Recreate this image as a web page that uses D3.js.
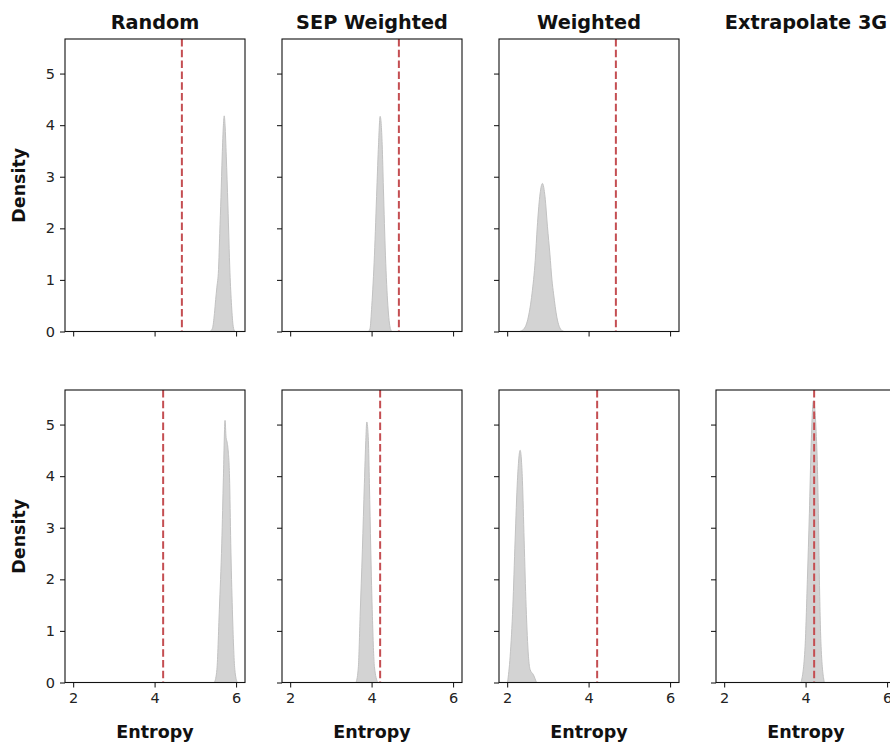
<!DOCTYPE html>
<html>
<head>
<meta charset="utf-8">
<script src="https://cdn.jsdelivr.net/npm/d3@7"></script>
<style>
  body { margin: 0; background: #fff; }
  svg { display: block; font-family: "DejaVu Sans", sans-serif; }
</style>
</head>
<body>
<div id="chart"></div>
<script>
// panel titles (columns) and the reference value drawn per row
var methods = ["Random", "SEP Weighted", "Weighted", "Extrapolate 3G"];
var rowRefs = [4.67, 4.21];
var xTicks = [2, 4, 6];
var yTicks = [0, 1, 2, 3, 4, 5];

// density curves: [entropy, density]
var topRandom = [[5.36,0],[5.42,0.06],[5.47,0.35],[5.50,0.62],[5.53,0.86],[5.57,1.2],[5.60,1.9],[5.63,2.6],[5.66,3.4],[5.69,4.0],[5.71,4.18],[5.73,4.0],[5.76,3.4],[5.80,2.45],[5.85,1.15],[5.89,0.5],[5.93,0.1],[5.97,0]];
var topSep = [[3.92,0],[3.96,0.05],[4.005,0.5],[4.07,1.48],[4.13,2.78],[4.17,3.62],[4.21,4.17],[4.26,3.62],[4.29,2.78],[4.34,1.48],[4.40,0.5],[4.46,0.06],[4.50,0]];
var topWeighted = [[2.30,0],[2.40,0.04],[2.52,0.28],[2.61,0.73],[2.69,1.38],[2.74,2.03],[2.80,2.61],[2.866,2.87],[2.93,2.61],[2.99,2.03],[3.05,1.5],[3.10,1.0],[3.14,0.73],[3.22,0.28],[3.34,0.02],[3.40,0]];
var botRandom = [[5.47,0],[5.53,0.25],[5.59,1.41],[5.65,2.7],[5.69,3.98],[5.73,5.08],[5.755,4.75],[5.78,4.66],[5.80,4.55],[5.84,3.98],[5.87,2.7],[5.91,1.41],[5.97,0.25],[6.03,0]];
var botSep = [[3.62,0],[3.676,0.31],[3.718,1.28],[3.774,2.57],[3.823,3.86],[3.858,4.69],[3.882,5.05],[3.921,4.69],[3.946,3.86],[3.98,2.57],[4.02,1.28],[4.069,0.31],[4.15,0]];
var botWeighted = [[2.01,0],[2.074,0.51],[2.14,1.47],[2.196,2.76],[2.253,3.92],[2.319,4.5],[2.375,3.92],[2.417,2.76],[2.466,1.47],[2.523,0.51],[2.564,0.25],[2.645,0.15],[2.72,0]];
var botExtrap = [[3.89,0],[3.988,0.70],[4.044,1.99],[4.093,3.28],[4.135,4.56],[4.191,5.46],[4.275,4.56],[4.314,3.28],[4.339,1.99],[4.38,0.70],[4.46,0]];

var panels = [
  {row: 0, col: 0, curve: topRandom},
  {row: 0, col: 1, curve: topSep},
  {row: 0, col: 2, curve: topWeighted},
  {row: 1, col: 0, curve: botRandom},
  {row: 1, col: 1, curve: botSep},
  {row: 1, col: 2, curve: botWeighted},
  {row: 1, col: 3, curve: botExtrap}
];

var width = 890, height = 742;
var panelW = 180, panelH = 292.5;
var colLeft = [65, 282, 499, 716];
var rowTop = [39, 390];

var svg = d3.select("#chart").append("svg")
    .attr("width", width)
    .attr("height", height);

var x = d3.scaleLinear().domain([1.80, 6.22]).range([0, panelW]);
var y = d3.scaleLinear().domain([0, 5.67]).range([panelH, 0]);

var area = d3.area()
    .x(function(d) { return x(d[0]); })
    .y0(y(0))
    .y1(function(d) { return y(d[1]); })
    .curve(d3.curveMonotoneX);

// column titles
methods.forEach(function(m, i) {
  svg.append("text")
    .attr("x", colLeft[i] + panelW / 2)
    .attr("y", 29)
    .attr("text-anchor", "middle")
    .attr("font-size", "19.3px")
    .attr("font-weight", "bold")
    .attr("fill", "#111")
    .text(m);
});

panels.forEach(function(p) {
  var g = svg.append("g")
      .attr("transform", "translate(" + colLeft[p.col] + "," + rowTop[p.row] + ")");

  // filled density
  g.append("path")
    .datum(p.curve)
    .attr("d", area)
    .attr("fill", "#d3d3d3")
    .attr("stroke", "#c2c2c2")
    .attr("stroke-width", 1);

  // reference line
  g.append("line")
    .attr("x1", x(rowRefs[p.row])).attr("x2", x(rowRefs[p.row]))
    .attr("y1", 0).attr("y2", panelH)
    .attr("stroke", "#c44e52")
    .attr("stroke-width", 2)
    .attr("stroke-dasharray", "7.5,3.3");

  // y axis
  var yAxis = d3.axisLeft(y).tickValues(yTicks).tickSize(5).tickPadding(5)
      .tickSizeOuter(0).tickFormat(d3.format("d"));
  if (p.col > 0) yAxis.tickFormat("");
  var ya = g.append("g").call(yAxis);

  // x axis
  var xAxis = d3.axisBottom(x).tickValues(xTicks).tickSize(5).tickPadding(5)
      .tickSizeOuter(0).tickFormat(d3.format("d"));
  if (p.row === 0) xAxis.tickFormat("");
  var xa = g.append("g").attr("transform", "translate(0," + panelH + ")").call(xAxis);

  [ya, xa].forEach(function(a) {
    a.select(".domain").remove();
    a.selectAll("line").attr("stroke", "#222").attr("stroke-width", 1.1);
    a.selectAll("text").attr("font-size", "14.5px").attr("fill", "#222")
      .attr("font-family", "DejaVu Sans, sans-serif");
  });

  // frame
  g.append("rect")
    .attr("width", panelW).attr("height", panelH)
    .attr("fill", "none")
    .attr("stroke", "#111")
    .attr("stroke-width", 1.1);

  if (p.col === 0) {
    svg.append("text")
      .attr("transform", "translate(25," + (rowTop[p.row] + panelH / 2) + ") rotate(-90)")
      .attr("text-anchor", "middle")
      .attr("font-size", "17.5px")
      .attr("font-weight", "bold")
      .attr("fill", "#111")
      .text("Density");
  }
  if (p.row === 1) {
    svg.append("text")
      .attr("x", colLeft[p.col] + panelW / 2)
      .attr("y", 738)
      .attr("text-anchor", "middle")
      .attr("font-size", "17.5px")
      .attr("font-weight", "bold")
      .attr("fill", "#111")
      .text("Entropy");
  }
});
</script>
</body>
</html>
